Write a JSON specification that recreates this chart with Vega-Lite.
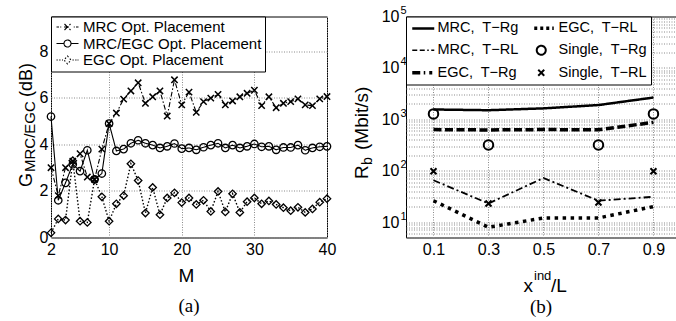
{
  "$schema": "https://vega.github.io/schema/vega-lite/v6.json",
  "background": "white",
  "padding": {"left": 16, "top": 3.5, "right": 0, "bottom": 0},
  "bounds": "flush",
  "spacing": 79,
  "config": {
    "font": "Liberation Sans",
    "view": {"stroke": "black", "strokeWidth": 1},
    "axis": {"labelFont": "Liberation Sans", "labelFontSize": 16, "labelColor": "black", "titleFont": "Liberation Sans", "titleFontWeight": "normal", "titleColor": "black", "ticks": false, "tickSize": 0, "domain": false, "gridColor": "#8a8a8a", "gridDash": [1, 1.5], "gridOpacity": 1, "gridWidth": 1, "labelFlush": false, "labelOverlap": false, "labelBound": false},
    "legend": {"labelFont": "Liberation Sans", "labelFontSize": 15, "labelColor": "black", "labelLimit": 400}
  },
  "resolve": {"scale": {"strokeDash": "independent", "shape": "independent", "strokeWidth": "independent"}, "legend": {"strokeDash": "independent"}},
  "hconcat": [
    {
      "width": 276,
      "height": 221,
      "title": {"text": "(a)", "orient": "bottom", "font": "Liberation Serif", "fontSize": 19, "fontWeight": "normal", "color": "black", "offset": 12},
      "data": {"values": [
        {"M": 2, "mrc": 3.0, "both": 5.2, "egc": 0.2},
        {"M": 3, "mrc": 1.8, "both": 1.6, "egc": 0.8},
        {"M": 4, "mrc": 3.0, "both": 2.35, "egc": 0.75},
        {"M": 5, "mrc": 3.28, "both": 3.15, "egc": 3.3},
        {"M": 6, "mrc": 3.6, "both": 2.85, "egc": 0.7},
        {"M": 7, "mrc": 2.6, "both": 3.75, "egc": 0.65},
        {"M": 8, "mrc": 2.5, "both": 2.5, "egc": 2.5},
        {"M": 9, "mrc": 3.8, "both": 2.75, "egc": 1.75},
        {"M": 10, "mrc": 4.9, "both": 4.9, "egc": 0.7},
        {"M": 11, "mrc": 5.35, "both": 3.72, "egc": 1.45},
        {"M": 12, "mrc": 5.95, "both": 3.8, "egc": 1.8},
        {"M": 13, "mrc": 6.3, "both": 4.05, "egc": 3.17},
        {"M": 14, "mrc": 6.65, "both": 4.18, "egc": 2.45},
        {"M": 15, "mrc": 5.77, "both": 4.05, "egc": 1.05},
        {"M": 16, "mrc": 6.05, "both": 3.97, "egc": 2.15},
        {"M": 17, "mrc": 6.3, "both": 3.85, "egc": 0.98},
        {"M": 18, "mrc": 5.22, "both": 3.92, "egc": 1.7},
        {"M": 19, "mrc": 6.78, "both": 4.04, "egc": 1.92},
        {"M": 20, "mrc": 5.7, "both": 3.82, "egc": 1.5},
        {"M": 21, "mrc": 6.25, "both": 3.85, "egc": 1.7},
        {"M": 22, "mrc": 5.38, "both": 3.77, "egc": 1.42},
        {"M": 23, "mrc": 5.84, "both": 3.88, "egc": 1.6},
        {"M": 24, "mrc": 5.99, "both": 3.97, "egc": 1.12},
        {"M": 25, "mrc": 6.15, "both": 4.05, "egc": 1.98},
        {"M": 26, "mrc": 5.7, "both": 3.85, "egc": 1.1},
        {"M": 27, "mrc": 5.87, "both": 3.97, "egc": 1.88},
        {"M": 28, "mrc": 6.05, "both": 3.85, "egc": 1.08},
        {"M": 29, "mrc": 6.2, "both": 3.92, "egc": 1.54},
        {"M": 30, "mrc": 6.33, "both": 4.02, "egc": 1.7},
        {"M": 31, "mrc": 5.67, "both": 3.9, "egc": 1.45},
        {"M": 32, "mrc": 6.05, "both": 3.92, "egc": 1.57},
        {"M": 33, "mrc": 5.58, "both": 3.77, "egc": 1.42},
        {"M": 34, "mrc": 5.77, "both": 3.87, "egc": 1.28},
        {"M": 35, "mrc": 5.84, "both": 3.87, "egc": 1.15},
        {"M": 36, "mrc": 5.96, "both": 3.97, "egc": 1.3},
        {"M": 37, "mrc": 5.7, "both": 3.75, "egc": 1.08},
        {"M": 38, "mrc": 5.67, "both": 3.85, "egc": 1.23},
        {"M": 39, "mrc": 5.96, "both": 3.9, "egc": 1.52},
        {"M": 40, "mrc": 6.06, "both": 3.92, "egc": 1.67}
      ]},
      "transform": [{"fold": ["mrc", "both", "egc"], "as": ["sa", "g"]}],
      "encoding": {
        "x": {"field": "M", "type": "quantitative", "scale": {"domain": [2, 40], "nice": false},
          "axis": {"values": [2, 10, 20, 30, 40], "grid": true, "labelPadding": 4, "title": "M", "titleFontSize": 19, "titleX": 135, "titleY": 43.5, "titleAlign": "center", "titleBaseline": "alphabetic"}}
      },
      "layer": [
        {
          "mark": {"type": "line", "color": "black"},
          "encoding": {
            "y": {"field": "g", "type": "quantitative", "scale": {"domain": [0, 9.5], "nice": false},
              "axis": {"orient": "left", "values": [0, 2, 4, 6, 8], "grid": true, "labelPadding": 3, "title": "G", "titleFontSize": 18, "titleAngle": -90, "titleX": -20, "titleY": 170, "titleAlign": "left", "titleBaseline": "alphabetic"}},
            "strokeWidth": {"condition": {"test": "datum.sa == 'egc'", "value": 1.4}, "value": 1.1},
            "strokeDash": {"field": "sa", "type": "nominal",
              "scale": {"domain": ["mrc", "both", "egc"], "range": [[5, 2, 1.5, 2], [1, 0], [1.5, 2]]},
              "legend": {"title": null, "orient": "top-left", "offset": 0, "padding": 3, "fillColor": "white", "strokeColor": "black", "labelFontSize": 15, "symbolSize": 100, "symbolStrokeColor": "black", "symbolStrokeWidth": 1.1, "symbolFillColor": "transparent", "labelOffset": 14, "rowPadding": 0.5,
                "labelExpr": "datum.value == 'mrc' ? 'MRC Opt. Placement' : datum.value == 'both' ? 'MRC/EGC Opt. Placement' : 'EGC Opt. Placement'",
                "encode": {"symbols": {"update": {
                  "shape": {"signal": "datum.value == 'mrc' ? 'M-1,0H-0.5M-0.25,0H-0.05M0.6,-0.6L1.8,0.6M0.6,0.6L1.8,-0.6M0.5,0H1.9M2.45,0H2.65M2.9,0H3.4' : datum.value == 'both' ? 'M-1,0H0.5M1.9,0A0.7,0.7,0,1,1,0.5,0A0.7,0.7,0,1,1,1.9,0M1.9,0H3.4' : 'M-1,0H-0.75M-0.45,0H-0.2M0.1,0H0.3M1.2,-0.8L1.9,0L1.2,0.8L0.5,0ZM2.2,0H2.45M2.75,0H3M3.2,0H3.4'"},
                  "strokeDash": {"value": [1, 0]},
                  "stroke": {"value": "black"},
                  "fill": {"value": "transparent"}
                }}}}}
          }
        },
        {
          "transform": [{"filter": "datum.sa != 'mrc'"}],
          "mark": {"type": "point", "filled": false, "color": "black", "strokeWidth": 1.3, "opacity": 1, "size": 55},
          "encoding": {
            "y": {"field": "g", "type": "quantitative", "scale": {"domain": [0, 9.5], "nice": false},
              "axis": {"orient": "left", "labels": false, "grid": false, "title": "MRC/EGC", "titleFontSize": 15, "titleAngle": -90, "titleX": -17, "titleY": 155, "titleAlign": "left", "titleBaseline": "alphabetic"}},
            "shape": {"field": "sa", "type": "nominal", "scale": {"domain": ["both", "egc"], "range": ["circle", "diamond"]}, "legend": null}
          }
        },
        {
          "transform": [{"filter": "datum.sa == 'mrc'"}],
          "mark": {"type": "point", "shape": "M-1,-1L1,1M-1,1L1,-1", "filled": false, "color": "black", "strokeWidth": 1.5, "opacity": 1, "size": 40},
          "encoding": {
            "y": {"field": "g", "type": "quantitative", "scale": {"domain": [0, 9.5], "nice": false},
              "axis": {"orient": "left", "labels": false, "grid": false, "title": "(dB)", "titleFontSize": 18, "titleAngle": -90, "titleX": -20, "titleY": 80, "titleAlign": "left", "titleBaseline": "alphabetic"}}
          }
        }
      ],
      "resolve": {"axis": {"y": "independent"}}
    },
    {
      "width": 270,
      "height": 221,
      "title": {"text": "(b)", "orient": "bottom", "font": "Liberation Serif", "fontSize": 19, "fontWeight": "normal", "color": "black", "offset": 2},
      "data": {"values": [
        {"x": 0.1, "sb": "mrg", "rb": 1550}, {"x": 0.3, "sb": "mrg", "rb": 1500}, {"x": 0.5, "sb": "mrg", "rb": 1630}, {"x": 0.7, "sb": "mrg", "rb": 1890}, {"x": 0.9, "sb": "mrg", "rb": 2650},
        {"x": 0.1, "sb": "erg", "rb": 630}, {"x": 0.3, "sb": "erg", "rb": 620}, {"x": 0.5, "sb": "erg", "rb": 630}, {"x": 0.7, "sb": "erg", "rb": 625}, {"x": 0.9, "sb": "erg", "rb": 870},
        {"x": 0.1, "sb": "mrl", "rb": 65}, {"x": 0.3, "sb": "mrl", "rb": 23}, {"x": 0.5, "sb": "mrl", "rb": 72}, {"x": 0.7, "sb": "mrl", "rb": 26}, {"x": 0.9, "sb": "mrl", "rb": 31},
        {"x": 0.1, "sb": "erl", "rb": 26}, {"x": 0.3, "sb": "erl", "rb": 7.9}, {"x": 0.5, "sb": "erl", "rb": 12}, {"x": 0.7, "sb": "erl", "rb": 12}, {"x": 0.9, "sb": "erl", "rb": 20},
        {"x": 0.1, "sb": "srg", "rb": 1270}, {"x": 0.3, "sb": "srg", "rb": 316}, {"x": 0.7, "sb": "srg", "rb": 316}, {"x": 0.9, "sb": "srg", "rb": 1270},
        {"x": 0.1, "sb": "srl", "rb": 97}, {"x": 0.3, "sb": "srl", "rb": 23}, {"x": 0.7, "sb": "srl", "rb": 24}, {"x": 0.9, "sb": "srl", "rb": 97}
      ]},
      "layer": [
        {
          "transform": [{"filter": "datum.sb == 'mrg' || datum.sb == 'erg' || datum.sb == 'mrl' || datum.sb == 'erl'"}],
          "mark": {"type": "line", "color": "black"},
          "encoding": {
            "x": {"field": "x", "type": "quantitative", "scale": {"domain": [0, 0.982], "nice": false},
              "axis": {"orient": "bottom", "values": [0.1, 0.3, 0.5, 0.7, 0.9], "grid": true, "labelPadding": 4, "title": "x", "titleFontSize": 19, "titleX": 117, "titleY": 54, "titleAlign": "left", "titleBaseline": "alphabetic"}},
            "y": {"field": "rb", "type": "quantitative", "scale": {"type": "log", "domain": [5, 100000], "nice": false},
              "axis": {"orient": "left", "values": [5, 6, 7, 8, 9, 10, 20, 30, 40, 50, 60, 70, 80, 90, 100, 200, 300, 400, 500, 600, 700, 800, 900, 1000, 2000, 3000, 4000, 5000, 6000, 7000, 8000, 9000, 10000, 20000, 30000, 40000, 50000, 60000, 70000, 80000, 90000, 100000], "grid": true, "labelPadding": 7,
                "labelExpr": "datum.value == 10 || datum.value == 100 || datum.value == 1000 || datum.value == 10000 || datum.value == 100000 ? '10' : ''",
                "title": "R", "titleFontSize": 19, "titleAngle": -90, "titleX": -39, "titleY": 162, "titleAlign": "left", "titleBaseline": "alphabetic"}},
            "strokeWidth": {"condition": [{"test": "datum.sb == 'mrl'", "value": 1.8}, {"test": "datum.sb == 'mrg'", "value": 2.5}], "value": 3.5},
            "strokeDash": {"field": "sb", "type": "nominal",
              "scale": {"domain": ["mrg", "mrl", "erg", "erl", "srg", "srl"], "range": [[1, 0], [7, 3, 2, 3], [8, 3.5], [3.5, 4.5], [1, 0], [1, 0]]},
              "legend": {"title": null, "orient": "top-left", "offset": 0, "padding": 4, "columns": 2, "columnPadding": 8, "gridAlign": "each", "rowPadding": 5.5, "fillColor": "white", "strokeColor": "black", "labelFontSize": 14.5, "symbolSize": 100, "symbolStrokeColor": "black", "symbolFillColor": "transparent", "labelOffset": 13,
                "labelExpr": "datum.value == 'mrg' ? 'MRC,\u00a0 T\u2212Rg' : datum.value == 'mrl' ? 'MRC,\u00a0 T\u2212RL' : datum.value == 'erg' ? 'EGC,\u00a0 T\u2212Rg' : datum.value == 'erl' ? 'EGC,\u00a0 T\u2212RL' : datum.value == 'srg' ? 'Single,\u00a0 T\u2212Rg' : 'Single,\u00a0 T\u2212RL'",
                "encode": {"symbols": {"update": {
                  "shape": {"signal": "datum.value == 'mrg' ? 'M-1,0H3.4' : datum.value == 'erl' ? 'M-0.8,0H-0.2M0.4,0H1M1.6,0H2.2M2.8,0H3.1' : datum.value == 'mrl' ? 'M-1,0H0M0.5,0H1.5M2,0H2.3M2.8,0H3.4' : datum.value == 'srg' ? 'M1.5,0A0.9,0.9,0,1,1,-0.3,0A0.9,0.9,0,1,1,1.5,0' : datum.value == 'erg' ? 'M-1,0H1.6M2.4,0H3' : 'M0,-0.6L1.2,0.6M0,0.6L1.2,-0.6'"},
                  "strokeWidth": {"signal": "datum.value == 'mrg' ? 2.5 : datum.value == 'mrl' ? 1.5 : datum.value == 'srg' || datum.value == 'srl' ? 2 : 3.5"},
                  "strokeDash": {"value": [1, 0]},
                  "stroke": {"value": "black"},
                  "fill": {"value": "transparent"}
                }}}}}
          }
        },
        {
          "transform": [{"filter": "datum.sb == 'srg'"}],
          "mark": {"type": "point", "shape": "circle", "filled": false, "color": "black", "strokeWidth": 2, "opacity": 1, "size": 90},
          "encoding": {
            "x": {"field": "x", "type": "quantitative", "scale": {"domain": [0, 0.982], "nice": false},
              "axis": {"orient": "bottom", "labels": false, "grid": false, "title": "ind", "titleFontSize": 13, "titleX": 127.5, "titleY": 42, "titleAlign": "left", "titleBaseline": "alphabetic"}},
            "y": {"field": "rb", "type": "quantitative", "scale": {"type": "log", "domain": [5, 100000], "nice": false},
              "axis": {"orient": "left", "values": [10, 100, 1000, 10000, 100000], "labels": true, "labelFontSize": 11, "labelAlign": "left", "labelPadding": 6, "labelOffset": -6,
                "labelExpr": "datum.value == 10 ? '1' : datum.value == 100 ? '2' : datum.value == 1000 ? '3' : datum.value == 10000 ? '4' : '5'",
                "grid": false, "title": "b", "titleFontSize": 14, "titleAngle": -90, "titleX": -35, "titleY": 148, "titleAlign": "left", "titleBaseline": "alphabetic"}}
          }
        },
        {
          "transform": [{"filter": "datum.sb == 'srl'"}],
          "mark": {"type": "point", "shape": "M-1,-1L1,1M-1,1L1,-1", "filled": false, "color": "black", "strokeWidth": 2, "opacity": 1, "size": 36},
          "encoding": {
            "x": {"field": "x", "type": "quantitative", "scale": {"domain": [0, 0.982], "nice": false},
              "axis": {"orient": "bottom", "labels": false, "grid": false, "title": "/L", "titleFontSize": 19, "titleX": 144.5, "titleY": 54, "titleAlign": "left", "titleBaseline": "alphabetic"}},
            "y": {"field": "rb", "type": "quantitative", "scale": {"type": "log", "domain": [5, 100000], "nice": false},
              "axis": {"orient": "left", "labels": false, "grid": false, "title": "(Mbit/s)", "titleFontSize": 19, "titleAngle": -90, "titleX": -39, "titleY": 133, "titleAlign": "left", "titleBaseline": "alphabetic"}}
          }
        }
      ],
      "resolve": {"axis": {"x": "independent", "y": "independent"}}
    }
  ]
}
